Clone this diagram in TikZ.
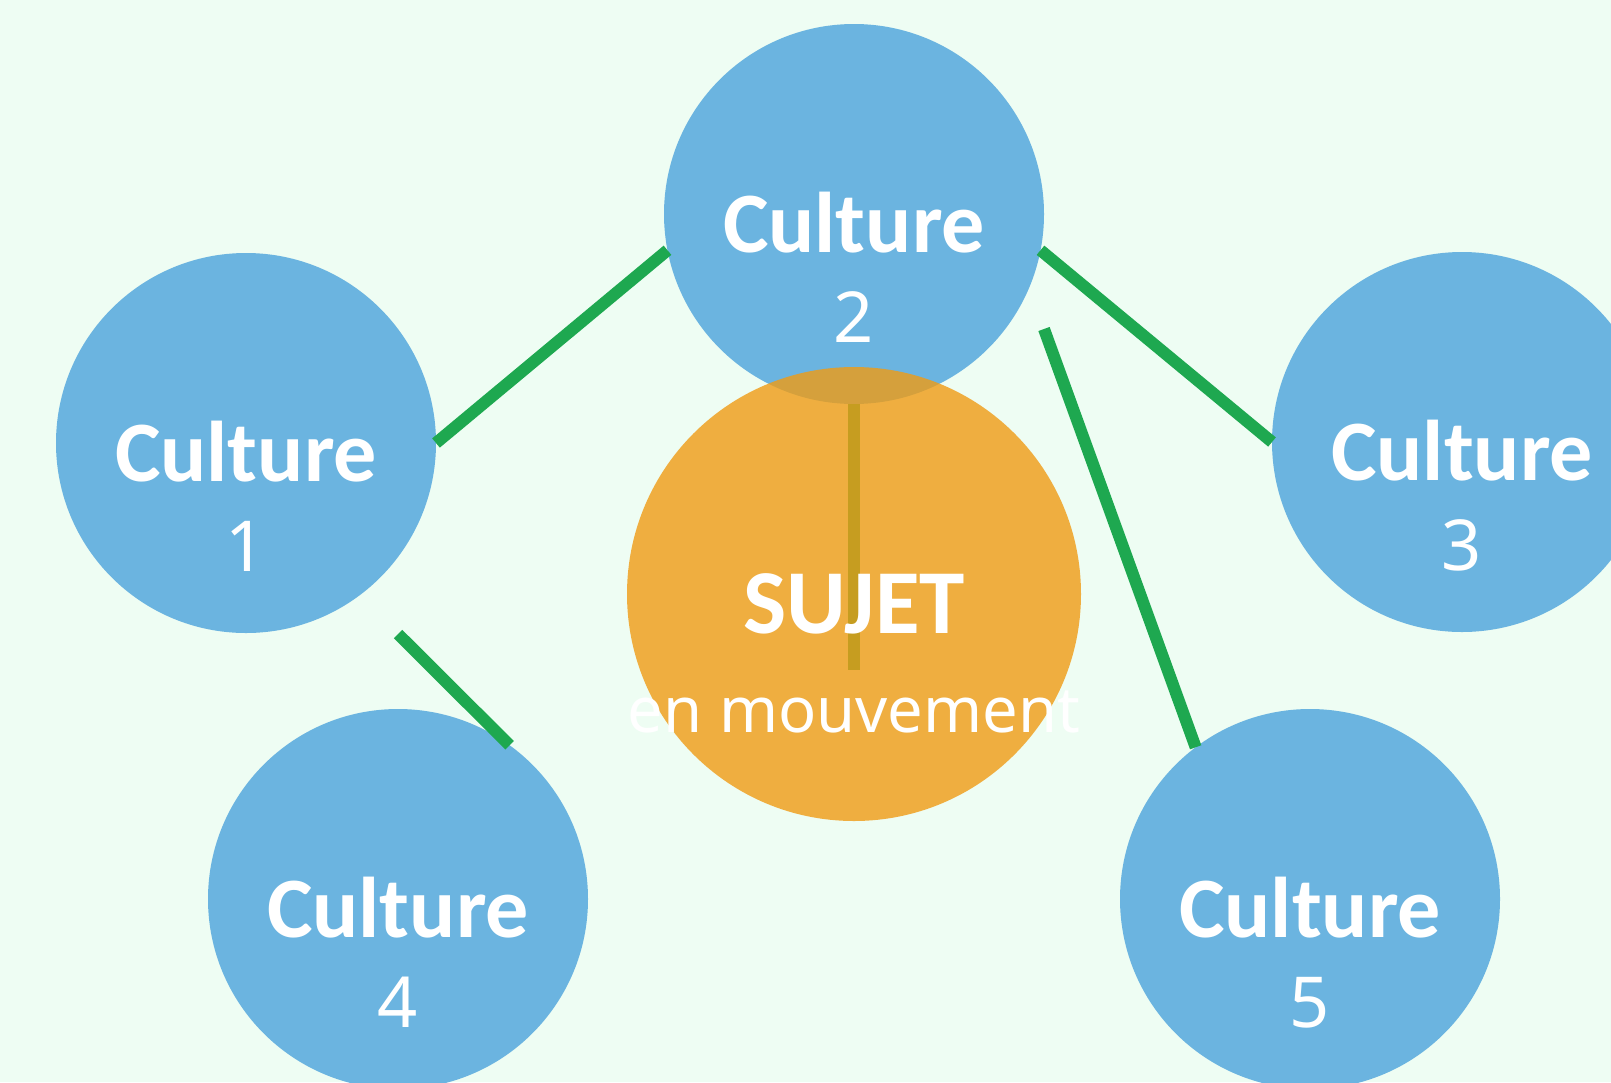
\documentclass[tikz,border=0pt]{standalone}
\usepackage{fontspec}
\setmainfont{Carlito}
\newfontfamily\plainsans{Noto Sans}
\definecolor{mint}{RGB}{238,253,243}
\definecolor{skyblue}{RGB}{107,180,224}
\definecolor{amber}{RGB}{240,155,20}
\definecolor{leaf}{RGB}{30,168,80}
\begin{document}
\begin{tikzpicture}[
  culture/.style = {
    shape = circle,
    fill = skyblue,
    minimum size = 3.8cm,
    inner sep = 0pt,
    outer sep = 0pt,
  },
  subject/.style = {
    shape = circle,
    fill = amber,
    fill opacity = 0.8,
    minimum size = 4.54cm,
    inner sep = 0pt,
  },
  heading/.style = {
    anchor = base,
    text = white,
    inner sep = 0pt,
    font = \fontsize{24.5}{26}\selectfont\bfseries
  },
  number/.style = {
    anchor = base,
    text = white,
    inner sep = 0pt,
    font = \plainsans\fontsize{20}{24}\selectfont
  },
  link/.style = {
    draw = leaf,
    line width = 0.12cm
  }
]
  \path[use as bounding box, clip] (0, 0) rectangle (16.11, -10.82);
  \fill[mint] (0, 0) rectangle (16.11, -10.82);

  \node[culture] (c1) at (2.46, -4.43) {};
  \node[culture] (c2) at (8.54, -2.14) {};
  \node[culture] (c3) at (14.62, -4.42) {};
  \node[culture] (c4) at (3.98, -8.99) {};
  \node[culture] (c5) at (13.10, -8.99) {};

  \coordinate (a4) at (3.98, -6.34);
  \coordinate (a5) at (10.44, -3.29);
  \coordinate (s2) at (8.54, -6.70);

  \draw[link] (c1.east) -- (c2.191);
  \draw[link] (c2.349) -- (c3.west);
  \draw[link] (a4) -- (c4.54);
  \draw[link] (a5) -- (c5.127);
  \draw[link] (c2.south) -- (s2);

  \node[subject] (sujet) at (8.54, -5.94) {};

  \node[heading] (h1) at ([yshift=-0.38cm]c1.center) {Culture};
  \node[number] (n1) at ([yshift=-1.28cm]c1.center) {1};
  \node[heading] (h2) at ([yshift=-0.38cm]c2.center) {Culture};
  \node[number] (n2) at ([yshift=-1.28cm]c2.center) {2};
  \node[heading] (h3) at ([yshift=-0.38cm]c3.center) {Culture};
  \node[number] (n3) at ([yshift=-1.28cm]c3.center) {3};
  \node[heading] (h4) at ([yshift=-0.38cm]c4.center) {Culture};
  \node[number] (n4) at ([yshift=-1.28cm]c4.center) {4};
  \node[heading] (h5) at ([yshift=-0.38cm]c5.center) {Culture};
  \node[number] (n5) at ([yshift=-1.28cm]c5.center) {5};

  \node[heading, font = \fontsize{26}{28}\selectfont\bfseries] (hs) at ([yshift=-0.39cm]sujet.center) {SUJET};
  \node[number, font = \plainsans\fontsize{18}{22}\selectfont] (ns) at ([yshift=-1.38cm]sujet.center) {en mouvement};
\end{tikzpicture}
\end{document}
